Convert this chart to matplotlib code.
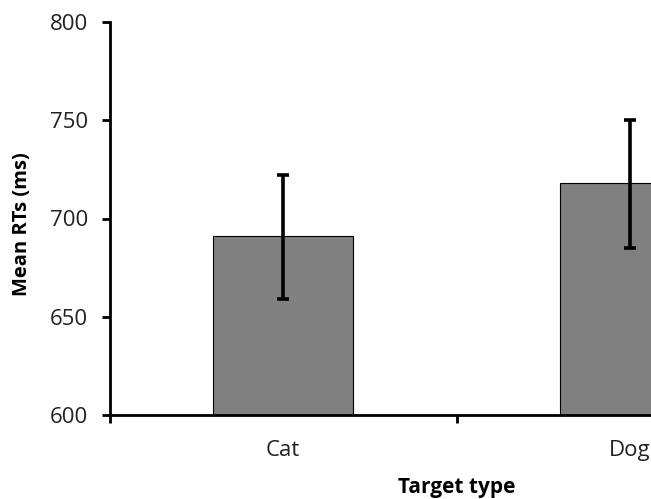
import matplotlib
matplotlib.use("Agg")
import matplotlib.pyplot as plt

# mean RTs per target type, with error bar ends
categories = ["Cat", "Dog"]
means = [691, 718]
err_low = [659, 685]
err_high = [722, 750]

plt.rcParams["font.family"] = ["Open Sans", "DejaVu Sans"]

fig = plt.figure(figsize=(6.51, 4.99), dpi=100)
# axes run past the right edge, like the cropped original
ax = fig.add_axes([110 / 651, 84 / 499, 693 / 651, 393 / 499])

x = list(range(len(categories)))
yerr = [[m - lo for m, lo in zip(means, err_low)],
        [hi - m for m, hi in zip(means, err_high)]]
ax.bar(x, [m - 600 for m in means], bottom=600, width=0.405,
       color="#808080", edgecolor="black", linewidth=0.8, zorder=2)
ax.errorbar(x, means, yerr=yerr, fmt="none", ecolor="black",
            elinewidth=2.6, capsize=4.5, capthick=2.6, zorder=3)

ax.set_xlim(-0.5, 1.5)
ax.set_ylim(600, 800)
ax.set_yticks([600, 650, 700, 750, 800])
ax.set_xticks(x)
ax.set_xticklabels(categories)
ax.set_xticks([-0.5, 0.5, 1.5], minor=True)

for s in ("top", "right"):
    ax.spines[s].set_visible(False)
for s in ("left", "bottom"):
    ax.spines[s].set_linewidth(2)
    ax.spines[s].set_color("black")

ax.tick_params(axis="y", direction="out", length=6, width=2,
               labelsize=16, pad=10, colors="black", labelcolor="#222222")
ax.tick_params(axis="x", which="major", length=0, labelsize=16, pad=18,
               labelcolor="#222222")
ax.tick_params(axis="x", which="minor", direction="out", length=6, width=2)

fig.text(22 / 651, 1 - 224 / 499, "Mean RTs (ms)", fontsize=14.5,
         fontweight="bold", rotation=90, ha="center", va="center")
fig.text(457 / 651, 1 - 487 / 499, "Target type", fontsize=15,
         fontweight="bold", ha="center", va="center")

fig.savefig("out.png", dpi=100)
